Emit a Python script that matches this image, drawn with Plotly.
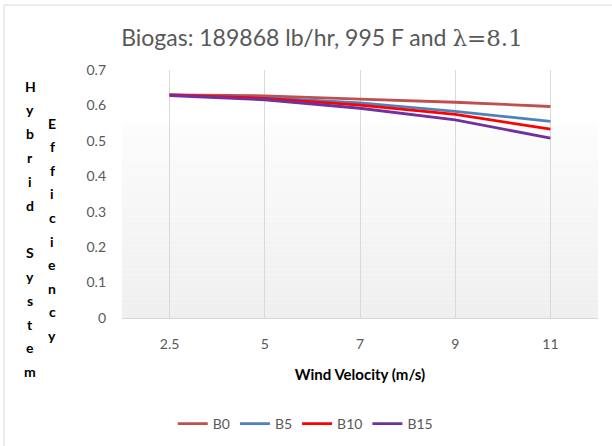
import plotly.graph_objects as go

wind = ["2.5", "5", "7", "9", "11"]
b0 = [0.630, 0.627, 0.618, 0.609, 0.597]
b5 = [0.630, 0.622, 0.607, 0.583, 0.555]
b10 = [0.630, 0.620, 0.601, 0.575, 0.533]
b15 = [0.628, 0.616, 0.592, 0.559, 0.508]
names = ["B0", "B5", "B10", "B15"]
series = [b0, b5, b10, b15]
colors = ["#C0504D", "#4F81BD", "#FF0000", "#7030A0"]
title_text = "Biogas: 189868 lb/hr, 995 F and "
ylab1 = "Hybrid System"
ylab2 = "Efficiency"
FONT = "Lato"

fig = go.Figure()
for n, s, c in zip(names, series, colors):
    fig.add_trace(go.Scatter(x=wind, y=s, name=n, mode="lines",
                             line=dict(color=c, width=2.8)))

# gradient plot background
shapes = []
N = 40
g0, g1 = 0.78, 0.0
for i in range(N):
    a = g1 + (g0 - g1) * i / N
    b = g1 + (g0 - g1) * (i + 1) / N
    t = i / (N - 1)
    v = int(round(239 + (252 - 239) * t))
    shapes.append(dict(type="rect", xref="x domain", yref="y domain",
                       x0=0, x1=1, y0=a, y1=b, layer="below",
                       line=dict(width=0), fillcolor=f"rgb({v},{v},{v})"))
# outer border (only left and top edges visible)
W, H, L, T, PW, PH = 612, 446, 122, 70, 476, 248
shapes.append(dict(type="rect", xref="paper", yref="paper",
                   x0=(4 - L) / PW, x1=(640 - L) / PW,
                   y0=(T + PH - 470) / PH, y1=(T + PH - 5) / PH,
                   line=dict(color="#d9d9d9", width=1), fillcolor="rgba(0,0,0,0)"))

annotations = []
for i, ch in enumerate(ylab1):
    if ch == " ":
        continue
    annotations.append(dict(text=ch, xref="paper", yref="paper",
                            x=(30 - L) / PW, y=1, yshift=-(86 - T) - i * 23.8,
                            showarrow=False, xanchor="center", yanchor="middle",
                            font=dict(family=FONT, size=14, color="#000000", weight="bold")))
for i, ch in enumerate(ylab2):
    annotations.append(dict(text=ch, xref="paper", yref="paper",
                            x=(52 - L) / PW, y=1, yshift=-(123 - T) - i * 23.6,
                            showarrow=False, xanchor="center", yanchor="middle",
                            font=dict(family=FONT, size=14, color="#000000", weight="bold")))

fig.update_layout(
    width=W, height=H,
    margin=dict(l=L, r=W - L - PW, t=T, b=H - T - PH, autoexpand=False),
    paper_bgcolor="white", plot_bgcolor="white",
    title=dict(text=title_text + '<span style="font-family:\'DejaVu Serif\';">λ=8.1</span>',
               x=322 / W, xanchor="center", xref="container",
               y=1 - 38 / H, yanchor="middle", yref="container",
               font=dict(family=FONT, size=23, color="#595959")),
    xaxis=dict(type="category", range=[-0.5, 4.5], showgrid=True, gridcolor="#d9d9d9",
               gridwidth=1, showline=True, linecolor="#d9d9d9", ticks="",
               tickfont=dict(family=FONT, size=14, color="#595959"),
               ticklabelstandoff=13, automargin=False,
               title=dict(text="<b>Wind Velocity (m/s)</b>", standoff=18,
                          font=dict(family=FONT, size=15, color="#000000"))),
    yaxis=dict(range=[0, 0.7], showgrid=False, zeroline=False,
               showline=False, ticks="", automargin=False,
               tickvals=[0, 0.1, 0.2, 0.3, 0.4, 0.5, 0.6, 0.7],
               ticktext=["0", "0.1", "0.2", "0.3", "0.4", "0.5", "0.6", "0.7"],
               tickfont=dict(family=FONT, size=14, color="#595959"),
               ticklabelstandoff=15),
    legend=dict(orientation="h", x=0.385, xanchor="center", y=(T + PH - 424) / PH,
                yanchor="middle", font=dict(family=FONT, size=14, color="#595959"),
                bgcolor="rgba(0,0,0,0)"),
    shapes=shapes, annotations=annotations, showlegend=True,
)

fig.write_html("out.html")
